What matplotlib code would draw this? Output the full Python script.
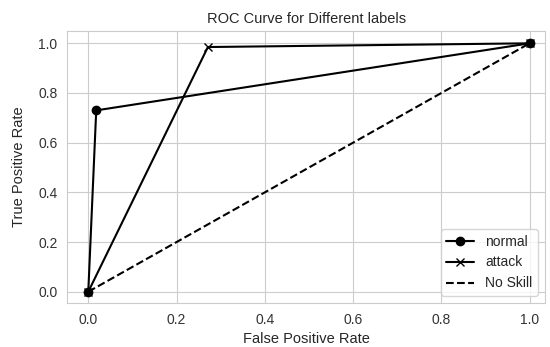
import numpy as np
import matplotlib
matplotlib.use("Agg")
import matplotlib.pyplot as plt
import seaborn as sns

# ROC points
normal_fpr = [0.0, 0.018, 1.0]
normal_tpr = [0.0, 0.73, 1.0]
attack_fpr = [0.0, 0.271, 1.0]
attack_tpr = [0.0, 0.985, 1.0]
skill_fpr = [0.0, 1.0]
skill_tpr = [0.0, 1.0]


def main():
    sns.set_style("whitegrid")
    plt.rcParams["font.family"] = ["Liberation Sans", "DejaVu Sans"]

    fig = plt.figure(figsize=(5.5, 3.47), dpi=100)
    ax = fig.add_axes([0.122, 0.127, 0.869, 0.784])

    ax.plot(normal_fpr, normal_tpr, "-o", c="black", ms=6, label="normal")
    ax.plot(attack_fpr, attack_tpr, "-x", c="black", ms=6, label="attack")
    ax.plot(skill_fpr, skill_tpr, "--", c="black", label="No Skill")

    ax.set_xlim(-0.048, 1.035)
    ax.set_ylim(-0.045, 1.05)
    ax.set_xticks(np.arange(0, 1.01, 0.2))
    ax.set_yticks(np.arange(0, 1.01, 0.2))
    ax.tick_params(labelsize=10, colors="#333333")

    ax.set_title("ROC Curve for Different labels", fontsize=10.5, color="#262626")
    ax.set_xlabel("False Positive Rate", fontsize=10.5, color="#262626")
    ax.set_ylabel("True Positive Rate", fontsize=10.5, color="#262626", labelpad=9)

    ax.legend(loc="lower right", fontsize=10)

    fig.savefig("out.png", dpi=100)


if __name__ == "__main__":
    main()
